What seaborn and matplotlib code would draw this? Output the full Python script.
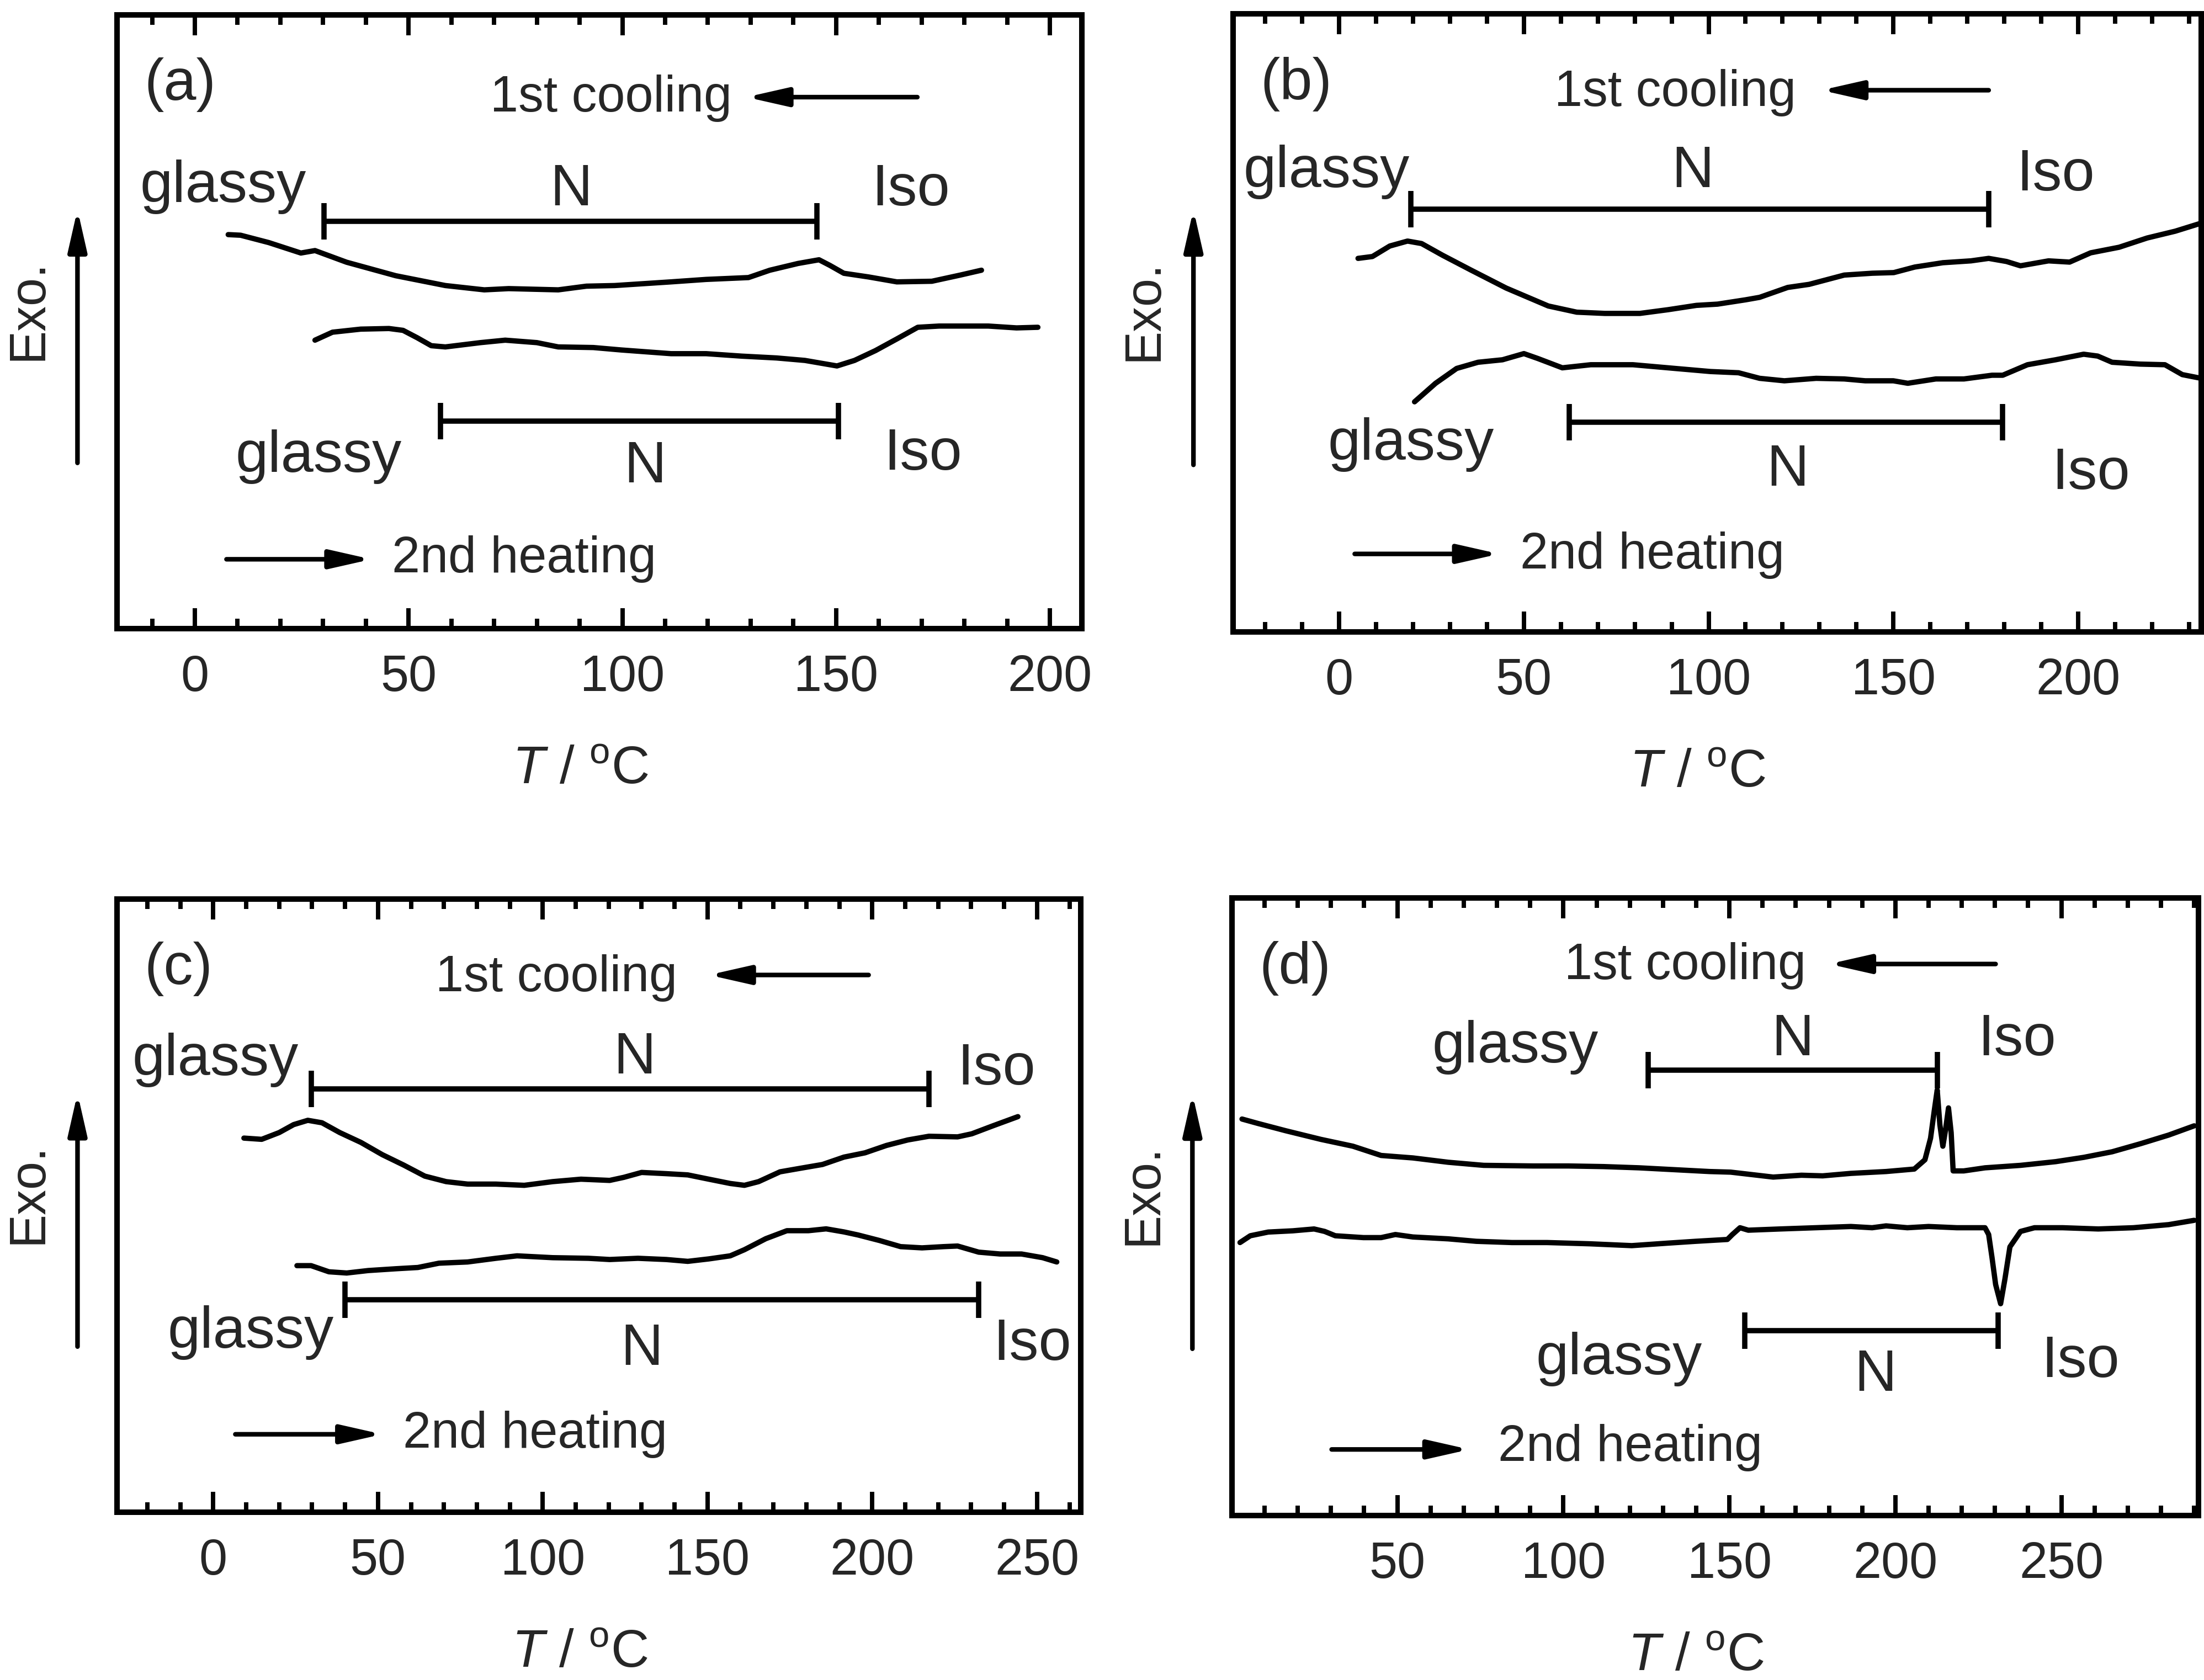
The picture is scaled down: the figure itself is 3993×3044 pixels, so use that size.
import numpy as np
import pandas as pd
import seaborn as sns
import matplotlib.pyplot as plt
from matplotlib.ticker import MultipleLocator

# DSC traces; signal is in % of the panel height (arb. units)
a_cool_T = [7.8, 10.7, 17.3, 24.8, 28.1, 35.5, 47.0, 58.6, 67.7, 73.4, 85.0, 91.6, 98.2, 111.4, 119.6,
            129.5, 134.5, 141.1, 146.0, 148.5, 151.8, 157.6, 164.2, 172.4, 179.0, 184.0]
a_cool_y = [64.2, 64.1, 62.9, 61.2, 61.6, 59.7, 57.5, 55.9, 55.2, 55.4, 55.2, 55.8, 55.9, 56.5, 56.9,
            57.2, 58.4, 59.5, 60.1, 59.2, 57.9, 57.3, 56.5, 56.6, 57.6, 58.4]
a_heat_T = [28.1, 32.2, 38.8, 45.4, 48.7, 52.0, 55.3, 58.6, 66.8, 72.6, 80.0, 85.0, 93.2, 99.8, 111.4,
            119.6, 127.9, 136.1, 142.7, 147.7, 150.2, 154.3, 159.2, 164.2, 169.1, 174.1, 185.6, 192.2, 197.2]
a_heat_y = [47.0, 48.3, 48.8, 48.9, 48.6, 47.4, 46.1, 45.9, 46.6, 47.0, 46.6, 45.9, 45.8, 45.4, 44.8,
            44.8, 44.4, 44.1, 43.7, 43.1, 42.8, 43.7, 45.3, 47.2, 49.1, 49.3, 49.3, 49.0, 49.1]
a_cool_N = [30.2, 145.5]
a_heat_N = [57.4, 150.5]

b_cool_T = [5.1, 9.0, 13.7, 18.5, 22.3, 28.0, 35.7, 45.2, 56.6, 64.3, 71.9, 81.4, 89.0, 96.7, 102.4,
            110.0, 113.8, 121.4, 127.2, 136.7, 144.3, 150.1, 155.8, 163.4, 171.0, 175.8, 180.6, 184.4,
            192.0, 197.7, 203.4, 211.1, 218.7, 226.3, 233.3]
b_cool_y = [60.4, 60.7, 62.4, 63.2, 62.8, 60.9, 58.5, 55.6, 52.7, 51.7, 51.5, 51.5, 52.1, 52.8, 53.0,
            53.7, 54.1, 55.7, 56.2, 57.7, 58.0, 58.1, 59.0, 59.7, 60.0, 60.4, 59.9, 59.2,
            60.0, 59.8, 61.3, 62.2, 63.7, 64.8, 66.1]
b_heat_T = [20.4, 26.1, 31.8, 37.6, 44.2, 50.0, 53.8, 60.4, 68.1, 79.5, 90.9, 100.5, 108.1, 113.8, 120.5,
            129.1, 136.7, 142.4, 150.0, 153.9, 161.5, 169.1, 176.7, 179.6, 186.3, 193.9, 201.5, 205.3,
            209.2, 216.8, 223.5, 228.2, 233.3]
b_heat_y = [37.2, 40.2, 42.6, 43.6, 44.0, 45.0, 44.2, 42.7, 43.2, 43.2, 42.6, 42.1, 41.9, 41.0, 40.6,
            41.0, 40.9, 40.6, 40.6, 40.2, 40.9, 40.9, 41.5, 41.5, 43.2, 44.0, 44.9, 44.6,
            43.6, 43.3, 43.2, 41.6, 41.0]
b_cool_N = [19.4, 175.8]
b_heat_N = [62.3, 179.6]

c_cool_T = [9.3, 14.7, 20.0, 24.4, 28.7, 33.0, 38.4, 44.8, 51.3, 57.8, 64.2, 70.7, 77.2, 85.8, 94.4,
            103.0, 111.6, 120.3, 124.6, 130.0, 137.5, 144.0, 150.4, 156.9, 161.2, 165.5, 172.0, 178.4,
            184.9, 191.4, 197.8, 204.3, 210.8, 217.2, 225.9, 230.2, 236.6, 244.2]
c_cool_y = [61.0, 60.8, 61.9, 63.2, 63.9, 63.5, 61.9, 60.3, 58.3, 56.6, 54.8, 53.9, 53.5, 53.5, 53.3,
            53.9, 54.3, 54.1, 54.6, 55.4, 55.2, 55.0, 54.3, 53.6, 53.3, 53.9, 55.5, 56.1,
            56.7, 57.9, 58.6, 59.8, 60.7, 61.3, 61.2, 61.7, 63.0, 64.5]
c_heat_T = [25.4, 29.7, 35.1, 40.5, 47.0, 55.6, 62.1, 68.5, 77.2, 85.8, 92.2, 103.0, 113.8, 120.3, 128.9,
            137.5, 144.0, 150.4, 156.9, 161.2, 167.7, 174.1, 180.6, 186.0, 191.4, 195.7, 202.2, 208.6,
            215.1, 221.6, 225.9, 232.3, 238.8, 245.3, 251.7, 256.0]
c_heat_y = [40.2, 40.2, 39.2, 39.0, 39.4, 39.7, 39.9, 40.6, 40.8, 41.4, 41.8, 41.5, 41.4, 41.2, 41.4,
            41.2, 40.9, 41.3, 41.8, 42.8, 44.6, 45.9, 45.9, 46.2, 45.7, 45.2, 44.3, 43.3,
            43.1, 43.3, 43.4, 42.4, 42.1, 42.1, 41.5, 40.8]
c_cool_N = [29.7, 217.2]
c_heat_N = [39.9, 232.3]

d_cool_T = [3.2, 7.9, 16.4, 27.0, 36.6, 45.1, 54.7, 65.3, 76.0, 90.9, 101.5, 112.1, 122.8, 133.4, 144.0,
            150.4, 156.8, 163.2, 171.7, 178.1, 186.6, 197.2, 205.7, 208.9, 210.6, 211.7, 212.6, 213.4,
            214.3, 215.1, 216.0, 216.8, 217.4, 220.6, 227.0, 237.7, 248.3, 256.8, 265.3, 273.8, 282.3, 290.0]
d_cool_y = [64.2, 63.5, 62.3, 60.9, 59.8, 58.3, 57.9, 57.2, 56.7, 56.6, 56.6, 56.5, 56.3, 56.0, 55.7,
            55.6, 55.2, 54.8, 55.1, 55.0, 55.4, 55.7, 56.1, 57.6, 61.1, 65.5, 68.9, 63.3,
            59.8, 62.4, 66.0, 62.0, 55.8, 55.8, 56.3, 56.7, 57.3, 58.0, 58.9, 60.2, 61.6, 63.1]
d_heat_T = [2.6, 5.7, 11.1, 18.5, 24.9, 28.1, 31.3, 39.8, 45.1, 49.4, 54.7, 65.3, 73.8, 84.5, 95.1,
            107.9, 120.6, 131.3, 139.8, 149.4, 150.9, 153.2, 155.7, 165.3, 176.0, 186.6, 193.0, 197.2,
            203.6, 210.0, 218.5, 227.0, 228.1, 229.1, 230.2, 231.7, 233.0, 234.5, 237.7, 241.9, 250.4,
            261.1, 271.7, 282.3, 290.0]
d_heat_y = [44.2, 45.3, 45.9, 46.1, 46.4, 46.0, 45.3, 45.0, 45.0, 45.5, 45.1, 44.8, 44.4, 44.2, 44.2,
            44.0, 43.7, 44.1, 44.4, 44.7, 45.5, 46.6, 46.2, 46.4, 46.6, 46.8, 46.6, 46.9,
            46.6, 46.8, 46.6, 46.6, 45.5, 41.8, 37.4, 34.3, 38.3, 43.5, 46.0, 46.6, 46.6,
            46.4, 46.6, 47.1, 47.8]
d_cool_N = [125.5, 212.6]
d_heat_N = [154.7, 230.9]

panel_letters = ["(a)", "(b)", "(c)", "(d)"]
x_ranges = [(-18.2, 207.5), (-28.7, 233.3), (-29.2, 263.3), (0.2, 291.3)]
x_major = [[0, 50, 100, 150, 200], [0, 50, 100, 150, 200],
           [0, 50, 100, 150, 200, 250], [50, 100, 150, 200, 250]]

sns.set_theme(style="ticks")
plt.rcParams["font.family"] = ["Liberation Sans", "DejaVu Sans"]
plt.rcParams["mathtext.fontset"] = "custom"
plt.rcParams["mathtext.rm"] = "Liberation Sans"
plt.rcParams["mathtext.it"] = "Liberation Sans:italic"
FS = 22        # ticks, axis label, cooling/heating captions
FS_PH = 25.5   # phase names and panel letters
LW = 2.3
HEAD = "-|>,head_length=0.75,head_width=0.17"

fig = plt.figure(figsize=(13.31, 10.147), dpi=300)
boxes = [[0.0531, 0.6258, 0.4378, 0.3653], [0.5595, 0.6239, 0.4392, 0.3680],
         [0.0531, 0.0999, 0.4373, 0.3650], [0.5590, 0.0979, 0.4385, 0.3676]]
axes = [fig.add_axes(b) for b in boxes]


def arrow(ax, x0, x1, y):
    ax.annotate("", xy=(x1, y), xytext=(x0, y),
                arrowprops=dict(arrowstyle=HEAD, mutation_scale=20, color="black",
                                lw=2.0, shrinkA=0, shrinkB=0))


def phase_bar(ax, rng, y):
    mid = (rng[0] + rng[1]) / 2
    half = (rng[1] - rng[0]) / 2
    ax.errorbar(mid, y, xerr=half, fmt="none", ecolor="black", elinewidth=LW,
                capsize=8, capthick=LW)


def label(ax, x, y, s, size=FS_PH):
    ax.text(x, y, s, fontsize=size, ha="center", va="center")


def style_axis(ax, i):
    ax.set_xlim(*x_ranges[i])
    ax.set_ylim(0, 100)
    ax.set_xticks(x_major[i])
    ax.xaxis.set_minor_locator(MultipleLocator(10))
    ax.set_yticks([])
    ax.tick_params(axis="x", which="both", direction="in", top=True, bottom=True,
                   labelsize=FS, pad=11, width=1.9, color="black")
    ax.tick_params(axis="x", which="major", length=8.8)
    ax.tick_params(axis="x", which="minor", length=4.4)
    for s in ax.spines.values():
        s.set_linewidth(2.4)
        s.set_color("black")
    ax.set_xlabel(r"$T$ / $^{\mathrm{o}}$C", fontsize=FS + 1, labelpad=19)
    ax.xaxis.label.set_x(0.48)
    ax.set_ylabel("")
    ax.text(-0.092, 0.52, "Exo.", rotation=90, fontsize=FS, ha="center", va="center",
            transform=ax.transAxes)
    ax.annotate("", xy=(-0.041, 0.683), xytext=(-0.041, 0.27),
                xycoords="axes fraction", annotation_clip=False,
                arrowprops=dict(arrowstyle=HEAD, mutation_scale=20, color="black",
                                lw=2.0, shrinkA=0, shrinkB=0))
    ax.text(x_ranges[i][0] + 0.028 * (x_ranges[i][1] - x_ranges[i][0]), 88.6,
            panel_letters[i], fontsize=FS_PH, ha="left", va="center")


curves = [(a_cool_T, a_cool_y, a_heat_T, a_heat_y),
          (b_cool_T, b_cool_y, b_heat_T, b_heat_y),
          (c_cool_T, c_cool_y, c_heat_T, c_heat_y),
          (d_cool_T, d_cool_y, d_heat_T, d_heat_y)]

for i, ax in enumerate(axes):
    ct, cy, ht, hy = curves[i]
    df = pd.concat([pd.DataFrame({"T": ct, "sig": cy, "run": "cool"}),
                    pd.DataFrame({"T": ht, "sig": hy, "run": "heat"})])
    sns.lineplot(data=df, x="T", y="sig", units="run", estimator=None, sort=False,
                 color="black", lw=LW, ax=ax)
    style_axis(ax, i)

# panel (a)
ax = axes[0]
label(ax, 97.4, 86.4, "1st cooling", FS)
arrow(ax, 169, 129, 86.6)
label(ax, 6.6, 72.0, "glassy")
label(ax, 88, 71.5, "N")
label(ax, 167.5, 71.5, "Iso")
phase_bar(ax, a_cool_N, 66.4)
phase_bar(ax, a_heat_N, 33.8)
label(ax, 28.9, 28.0, "glassy")
label(ax, 105.3, 26.3, "N")
label(ax, 170.3, 28.4, "Iso")
label(ax, 77, 11.3, "2nd heating", FS)
arrow(ax, 7.4, 41.3, 11.3)

# panel (b)
ax = axes[1]
label(ax, 91, 87.2, "1st cooling", FS)
arrow(ax, 175.8, 130.5, 87.6)
label(ax, -3.4, 74.4, "glassy")
label(ax, 95.7, 74.4, "N")
label(ax, 193.9, 73.9, "Iso")
phase_bar(ax, b_cool_N, 68.4)
phase_bar(ax, b_heat_N, 33.9)
label(ax, 19.4, 30.3, "glassy")
label(ax, 121.4, 26.1, "N")
label(ax, 203.4, 25.6, "Iso")
label(ax, 84.8, 12.4, "2nd heating", FS)
arrow(ax, 4.2, 43.3, 12.6)

# panel (c)
ax = axes[2]
label(ax, 104.1, 87.1, "1st cooling", FS)
arrow(ax, 198.9, 150.4, 87.6)
label(ax, 0.6, 73.8, "glassy")
label(ax, 127.8, 74.0, "N")
label(ax, 237.7, 72.2, "Iso")
phase_bar(ax, c_cool_N, 69.0)
phase_bar(ax, c_heat_N, 34.6)
label(ax, 11.4, 29.3, "glassy")
label(ax, 130, 26.5, "N")
label(ax, 248.5, 27.3, "Iso")
label(ax, 97.6, 12.7, "2nd heating", FS)
arrow(ax, 6.7, 51.3, 12.7)

# panel (d)
ax = axes[3]
label(ax, 136.6, 89.0, "1st cooling", FS)
arrow(ax, 230.2, 180.0, 89.3)
label(ax, 85.5, 75.8, "glassy")
label(ax, 169.1, 77.0, "N")
label(ax, 236.6, 77.0, "Iso")
phase_bar(ax, d_cool_N, 72.1)
phase_bar(ax, d_heat_N, 29.9)
label(ax, 116.8, 25.3, "glassy")
label(ax, 194, 22.7, "N")
label(ax, 255.7, 24.9, "Iso")
label(ax, 120.2, 11.0, "2nd heating", FS)
arrow(ax, 30.2, 71.7, 10.7)

fig.savefig("out.png", dpi=300, facecolor="white")
